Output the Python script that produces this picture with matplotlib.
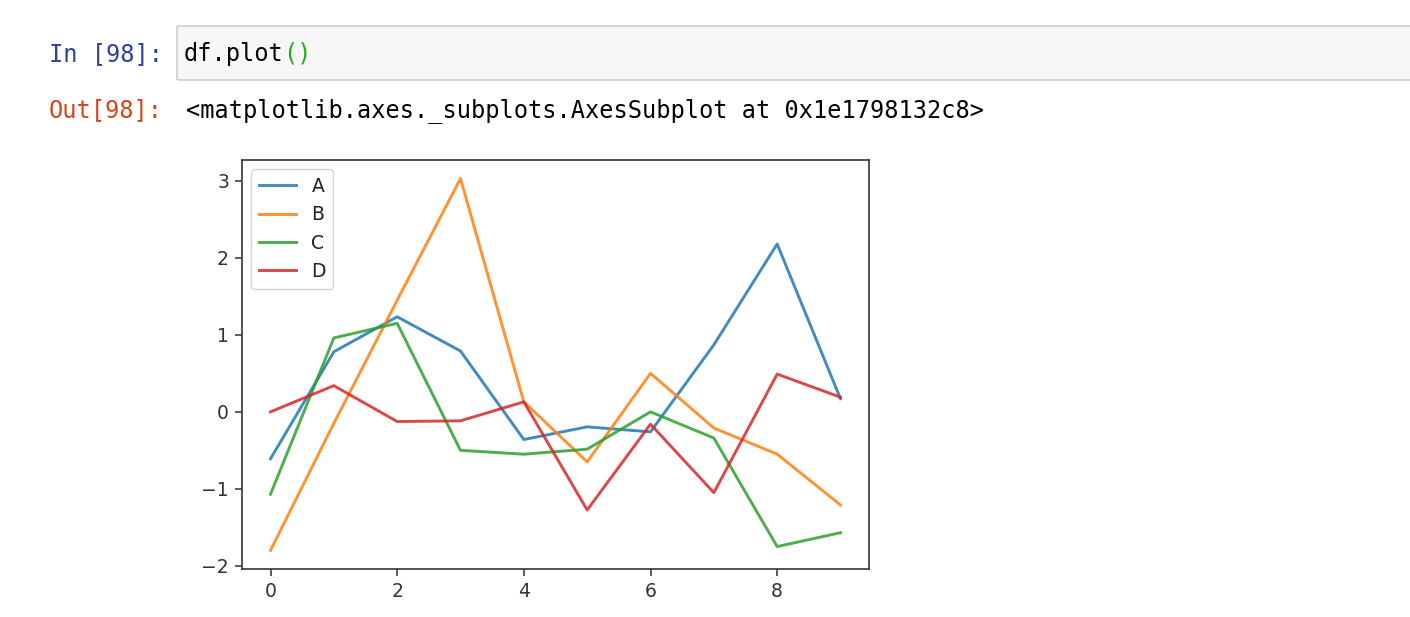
import pandas as pd
import matplotlib
matplotlib.use("Agg")
import matplotlib.pyplot as plt
from matplotlib.patches import FancyBboxPatch

W, H = 1410, 617

# values
index = list(range(10))
series_a = [-0.61, 0.78, 1.235, 0.79, -0.36, -0.195, -0.26, 0.87, 2.18, 0.17]
series_b = [-1.80, -0.15, 1.45, 3.03, 0.13, -0.65, 0.50, -0.21, -0.55, -1.21]
series_c = [-1.07, 0.96, 1.15, -0.50, -0.55, -0.485, 0.0, -0.34, -1.75, -1.57]
series_d = [0.0, 0.34, -0.126, -0.117, 0.13, -1.275, -0.16, -1.05, 0.49, 0.19]

# the inline figure is scaled ~1.87x, so bump the defaults
# (screenshot is a bit soft, so use dark gray instead of pure black)
plt.rcParams.update({
    "font.size": 13.5,
    "lines.linewidth": 2.1,
    "axes.linewidth": 1.2,
    "axes.edgecolor": "#333333",
    "xtick.color": "#333333",
    "ytick.color": "#333333",
    "text.color": "#222222",
    "xtick.major.size": 4.7,
    "ytick.major.size": 4.7,
    "xtick.major.width": 1.1,
    "ytick.major.width": 1.1,
    "xtick.major.pad": 4.7,
    "ytick.major.pad": 4.7,
    "legend.fontsize": 13.5,
})

df = pd.DataFrame({"A": series_a, "B": series_b, "C": series_c, "D": series_d}, index=index)

fig = plt.figure(figsize=(W / 100, H / 100), dpi=100)


def fx(px):
    return px / W


def fy(py):
    return 1 - py / H


# input cell box
box = FancyBboxPatch((fx(177), fy(80)), fx(1300), (80 - 26) / H,
                     boxstyle="round,pad=0,rounding_size=0.002",
                     transform=fig.transFigure, facecolor="#f7f7f7",
                     edgecolor="#cfcfcf", linewidth=1.2)
fig.patches.append(box)

mono = "DejaVu Sans Mono"
fig.text(fx(49), fy(61), "In [98]:", family=mono, fontsize=17, color="#303F9F")
fig.text(fx(184), fy(61), "df.plot", family=mono, fontsize=17, color="#000000")
fig.text(fx(184 + 7 * 14.14), fy(61), "()", family=mono, fontsize=17, color="#22aa22")
fig.text(fx(49), fy(117), "Out[98]:", family=mono, fontsize=17, color="#D84315")
fig.text(fx(186), fy(117), "<matplotlib.axes._subplots.AxesSubplot at 0x1e1798132c8>",
         family=mono, fontsize=17, color="#000000")

# the chart itself
ax = fig.add_axes([fx(242), fy(569), fx(869 - 242), (569 - 160) / H])
df.plot(ax=ax, alpha=0.85)
ax.legend(loc="upper left")

fig.savefig("out.png", dpi=100)
